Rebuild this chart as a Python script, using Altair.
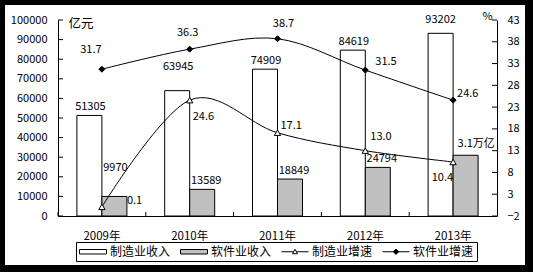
import altair as alt
import pandas as pd

# ---------------- data ----------------
years = ["2009年", "2010年", "2011年", "2012年", "2013年"]
manu_rev = [51305, 63945, 74909, 84619, 93202]
soft_rev = [9970, 13589, 18849, 24794, 31000]
manu_rev_labels = ["51305", "63945", "74909", "84619", "93202"]
soft_rev_labels = ["9970", "13589", "18849", "24794", "3.1万亿"]
manu_growth = [0.1, 24.6, 17.1, 13.0, 10.4]
soft_growth = [31.7, 36.3, 38.7, 31.5, 24.6]
manu_growth_labels = ["0.1", "24.6", "17.1", "13.0", "10.4"]
soft_growth_labels = ["31.7", "36.3", "38.7", "31.5", "24.6"]
series_names = ["制造业收入", "软件业收入", "制造业增速", "软件业增速"]
left_ticks = [0, 10000, 20000, 30000, 40000, 50000, 60000, 70000, 80000, 90000, 100000]
right_ticks = [-2, 3, 8, 13, 18, 23, 28, 33, 38, 43]

# ---------------- tables ----------------
manu_df = pd.DataFrame({"year": years, "series": series_names[0], "value": manu_rev, "label": manu_rev_labels})
soft_df = pd.DataFrame({"year": years, "series": series_names[1], "value": soft_rev, "label": soft_rev_labels})
bars_df = pd.concat([manu_df, soft_df], ignore_index=True)
mg_df = pd.DataFrame({"year": years, "series": series_names[2], "value": manu_growth, "label": manu_growth_labels})
sg_df = pd.DataFrame({"year": years, "series": series_names[3], "value": soft_growth, "label": soft_growth_labels})
lines_df = pd.concat([mg_df, sg_df], ignore_index=True)
lt_df = pd.DataFrame({"value": left_ticks})
rt_df = pd.DataFrame({"value": right_ticks})
yr_df = pd.DataFrame({"year": years})
leg_df = pd.DataFrame({"series": series_names})
one_df = pd.DataFrame({"a": [0]})

W, H = 439, 196
PAD_L, PAD_T, PAD_R, PAD_B = 58, 20, 36, 56
FONT = "Noto Sans CJK SC"

# ---------------- encodings ----------------
xscale = alt.Scale(domain=years, paddingInner=0, paddingOuter=0)
xaxis = alt.Axis(title=None, ticks=False, labelAngle=0, labelFont=FONT, labelFontSize=11.5,
                 labelColor="black", labelPadding=14, domainColor="black", grid=False, zindex=1)
X = alt.X("year:N", scale=xscale, axis=xaxis)
XOFF = alt.XOffset("series:N", scale=alt.Scale(domain=series_names[:2], paddingInner=0, paddingOuter=0.756))

yl_scale = alt.Scale(domain=[0, 100000], nice=False, zero=False)
yl_axis = alt.Axis(orient="left", title="亿元", titleAngle=0, titleX=10, titleY=3, titleAlign="left",
                   titleBaseline="middle", titleFont=FONT, titleFontSize=12.5, titleFontWeight="normal",
                   titleColor="black", values=left_ticks, format="d", ticks=False, labelPadding=11,
                   labelFont=FONT, labelFontSize=11, labelColor="black", grid=False, domainColor="black", zindex=1)
YL = alt.Y("value:Q", scale=yl_scale, axis=yl_axis)

yr_scale = alt.Scale(domain=[-2, 43], nice=False, zero=False)
yr_axis = alt.Axis(orient="right", title="%", titleAngle=0, titleX=-15, titleY=-4, titleAlign="left",
                   titleBaseline="middle", titleFont=FONT, titleFontSize=11, titleFontWeight="normal",
                   titleColor="black", values=right_ticks, format="d", ticks=False, labelPadding=10,
                   labelFont=FONT, labelFontSize=11, labelColor="black", grid=False, domainColor="black", zindex=1)
YR = alt.Y("value:Q", scale=yr_scale, axis=yr_axis)


def txt(df, y, sel, dx, dy, align="center", offset=False):
    enc = dict(x=X, y=y, text="label:N")
    if offset:
        enc["xOffset"] = XOFF
    return (alt.Chart(df)
            .transform_filter(alt.FieldOneOfPredicate(field="year", oneOf=sel))
            .mark_text(dx=dx, dy=dy, align=align, baseline="middle", font=FONT, fontSize=11, color="black")
            .encode(**enc))


# black picture frame: a thick outline whose inner edge sits 5 px (top/left),
# 8 px (right) and 7 px (bottom) inside the canvas
FW = 20
L0, R0, T0, B0 = -PAD_L, W + PAD_R, -PAD_T, H + PAD_B
frame = alt.Chart(one_df).mark_rect(fill="white", fillOpacity=0, stroke="black", strokeWidth=FW).encode(
    x=alt.value(L0 + 5 - FW / 2), x2=alt.value(R0 - 8 + FW / 2),
    y=alt.value(T0 + 5 - FW / 2), y2=alt.value(B0 - 7 + FW / 2))

# ---------------- left group (bars) ----------------
bars = alt.Chart(bars_df).mark_bar(stroke="black", strokeWidth=1).encode(
    x=X, xOffset=XOFF, y=YL,
    color=alt.Color("series:N", scale=alt.Scale(domain=series_names[:2], range=["white", "#c0c0c0"]), legend=None))

left_ticks_l = alt.Chart(lt_df).mark_rule(color="black").encode(y=YL, x=alt.value(0), x2=alt.value(5))
x_ticks = alt.Chart(yr_df).mark_rule(color="black").encode(
    x=alt.X("year:N", scale=xscale, axis=xaxis, bandPosition=0), y=alt.value(H - 4), y2=alt.value(H))

bar_labels = [
    txt(manu_df, YL, [years[0], years[2], years[3]], 1, -8, offset=True),
    txt(manu_df, YL, [years[1]], 1, -24, offset=True),
    txt(manu_df, YL, [years[4]], 0, -13, offset=True),
    txt(soft_df, YL, [years[1], years[2], years[3]], 4, -8, offset=True),
    txt(soft_df, YL, [years[0]], 1, -28, offset=True),
    txt(soft_df, YL, [years[4]], -8, -11, align="left", offset=True),
]

left = alt.layer(bars, left_ticks_l, x_ticks, *bar_labels)

# ---------------- right group (lines) ----------------
lines = alt.Chart(lines_df).mark_line(interpolate="cardinal", color="black", strokeWidth=1).encode(
    x=X, y=YR, detail="series:N")
tri = alt.Chart(mg_df).mark_point(shape="triangle-up", filled=True, fill="white", stroke="black",
                                   strokeWidth=1, size=40, opacity=1).encode(x=X, y=YR)
dia = alt.Chart(sg_df).mark_point(shape="diamond", filled=True, fill="black", stroke="black",
                                   strokeWidth=1, size=36, opacity=1).encode(x=X, y=YR)
right_ticks_l = alt.Chart(rt_df).mark_rule(color="black").encode(y=YR, x=alt.value(W - 5), x2=alt.value(W))

line_labels = [
    txt(sg_df, YR, [years[0]], -11, -19),
    txt(sg_df, YR, [years[1]], -2, -16),
    txt(sg_df, YR, [years[2]], 6, -15),
    txt(sg_df, YR, [years[3]], 10, -8, align="left"),
    txt(sg_df, YR, [years[4]], 4, -6, align="left"),
    txt(mg_df, YR, [years[0]], 25, -6, align="left"),
    txt(mg_df, YR, [years[1]], 3, 17, align="left"),
    txt(mg_df, YR, [years[2]], 3, -7, align="left"),
    txt(mg_df, YR, [years[3]], 5, -14, align="left"),
    txt(mg_df, YR, [years[4]], 0, 16, align="right"),
]

legend = alt.Legend(title=None, orient="none", legendX=18, legendY=222, direction="horizontal", columns=4,
                    symbolSize=144, symbolStrokeColor="black", symbolStrokeWidth=1, symbolOpacity=1,
                    labelFont=FONT, labelFontSize=12, labelColor="black", labelOffset=18, columnPadding=7,
                    padding=3, strokeColor="black", fillColor="white", cornerRadius=0, zindex=1)
# legend symbols drawn in units of 6 px round a centre 6 px from the entry's left
paths = [
    "M-1,-0.375H3.5V0.375H-1Z",
    "M-1,0H1.02M1.48,0H3.5M1.25,-0.42L1.67,0.33L0.83,0.33Z",
    "M-1,0H3.5M1.25,-0.45L1.7,0L1.25,0.45L0.8,0Z",
]
leg = alt.Chart(leg_df).mark_point(filled=True, opacity=0).encode(
    x=alt.value(0), y=alt.value(0),
    shape=alt.Shape("series:N", scale=alt.Scale(domain=series_names, range=[paths[0], paths[0], paths[1], paths[2]]), legend=legend),
    fill=alt.Fill("series:N", scale=alt.Scale(domain=series_names, range=["white", "#c0c0c0", "white", "black"]), legend=legend),
    stroke=alt.Stroke("series:N", scale=alt.Scale(domain=series_names, range=["black", "black", "black", "black"]), legend=legend))

right = alt.layer(lines, tri, dia, right_ticks_l, *line_labels, leg)

chart = (alt.layer(left, right, frame)
         .resolve_scale(y="independent")
         .properties(width=W, height=H, background="white",
                     autosize=alt.AutoSizeParams(type="none"),
                     padding={"left": PAD_L, "top": PAD_T, "right": PAD_R, "bottom": PAD_B})
         .configure_view(stroke=None))

chart.save("out.html", embed_options={"renderer": "svg", "actions": False})
